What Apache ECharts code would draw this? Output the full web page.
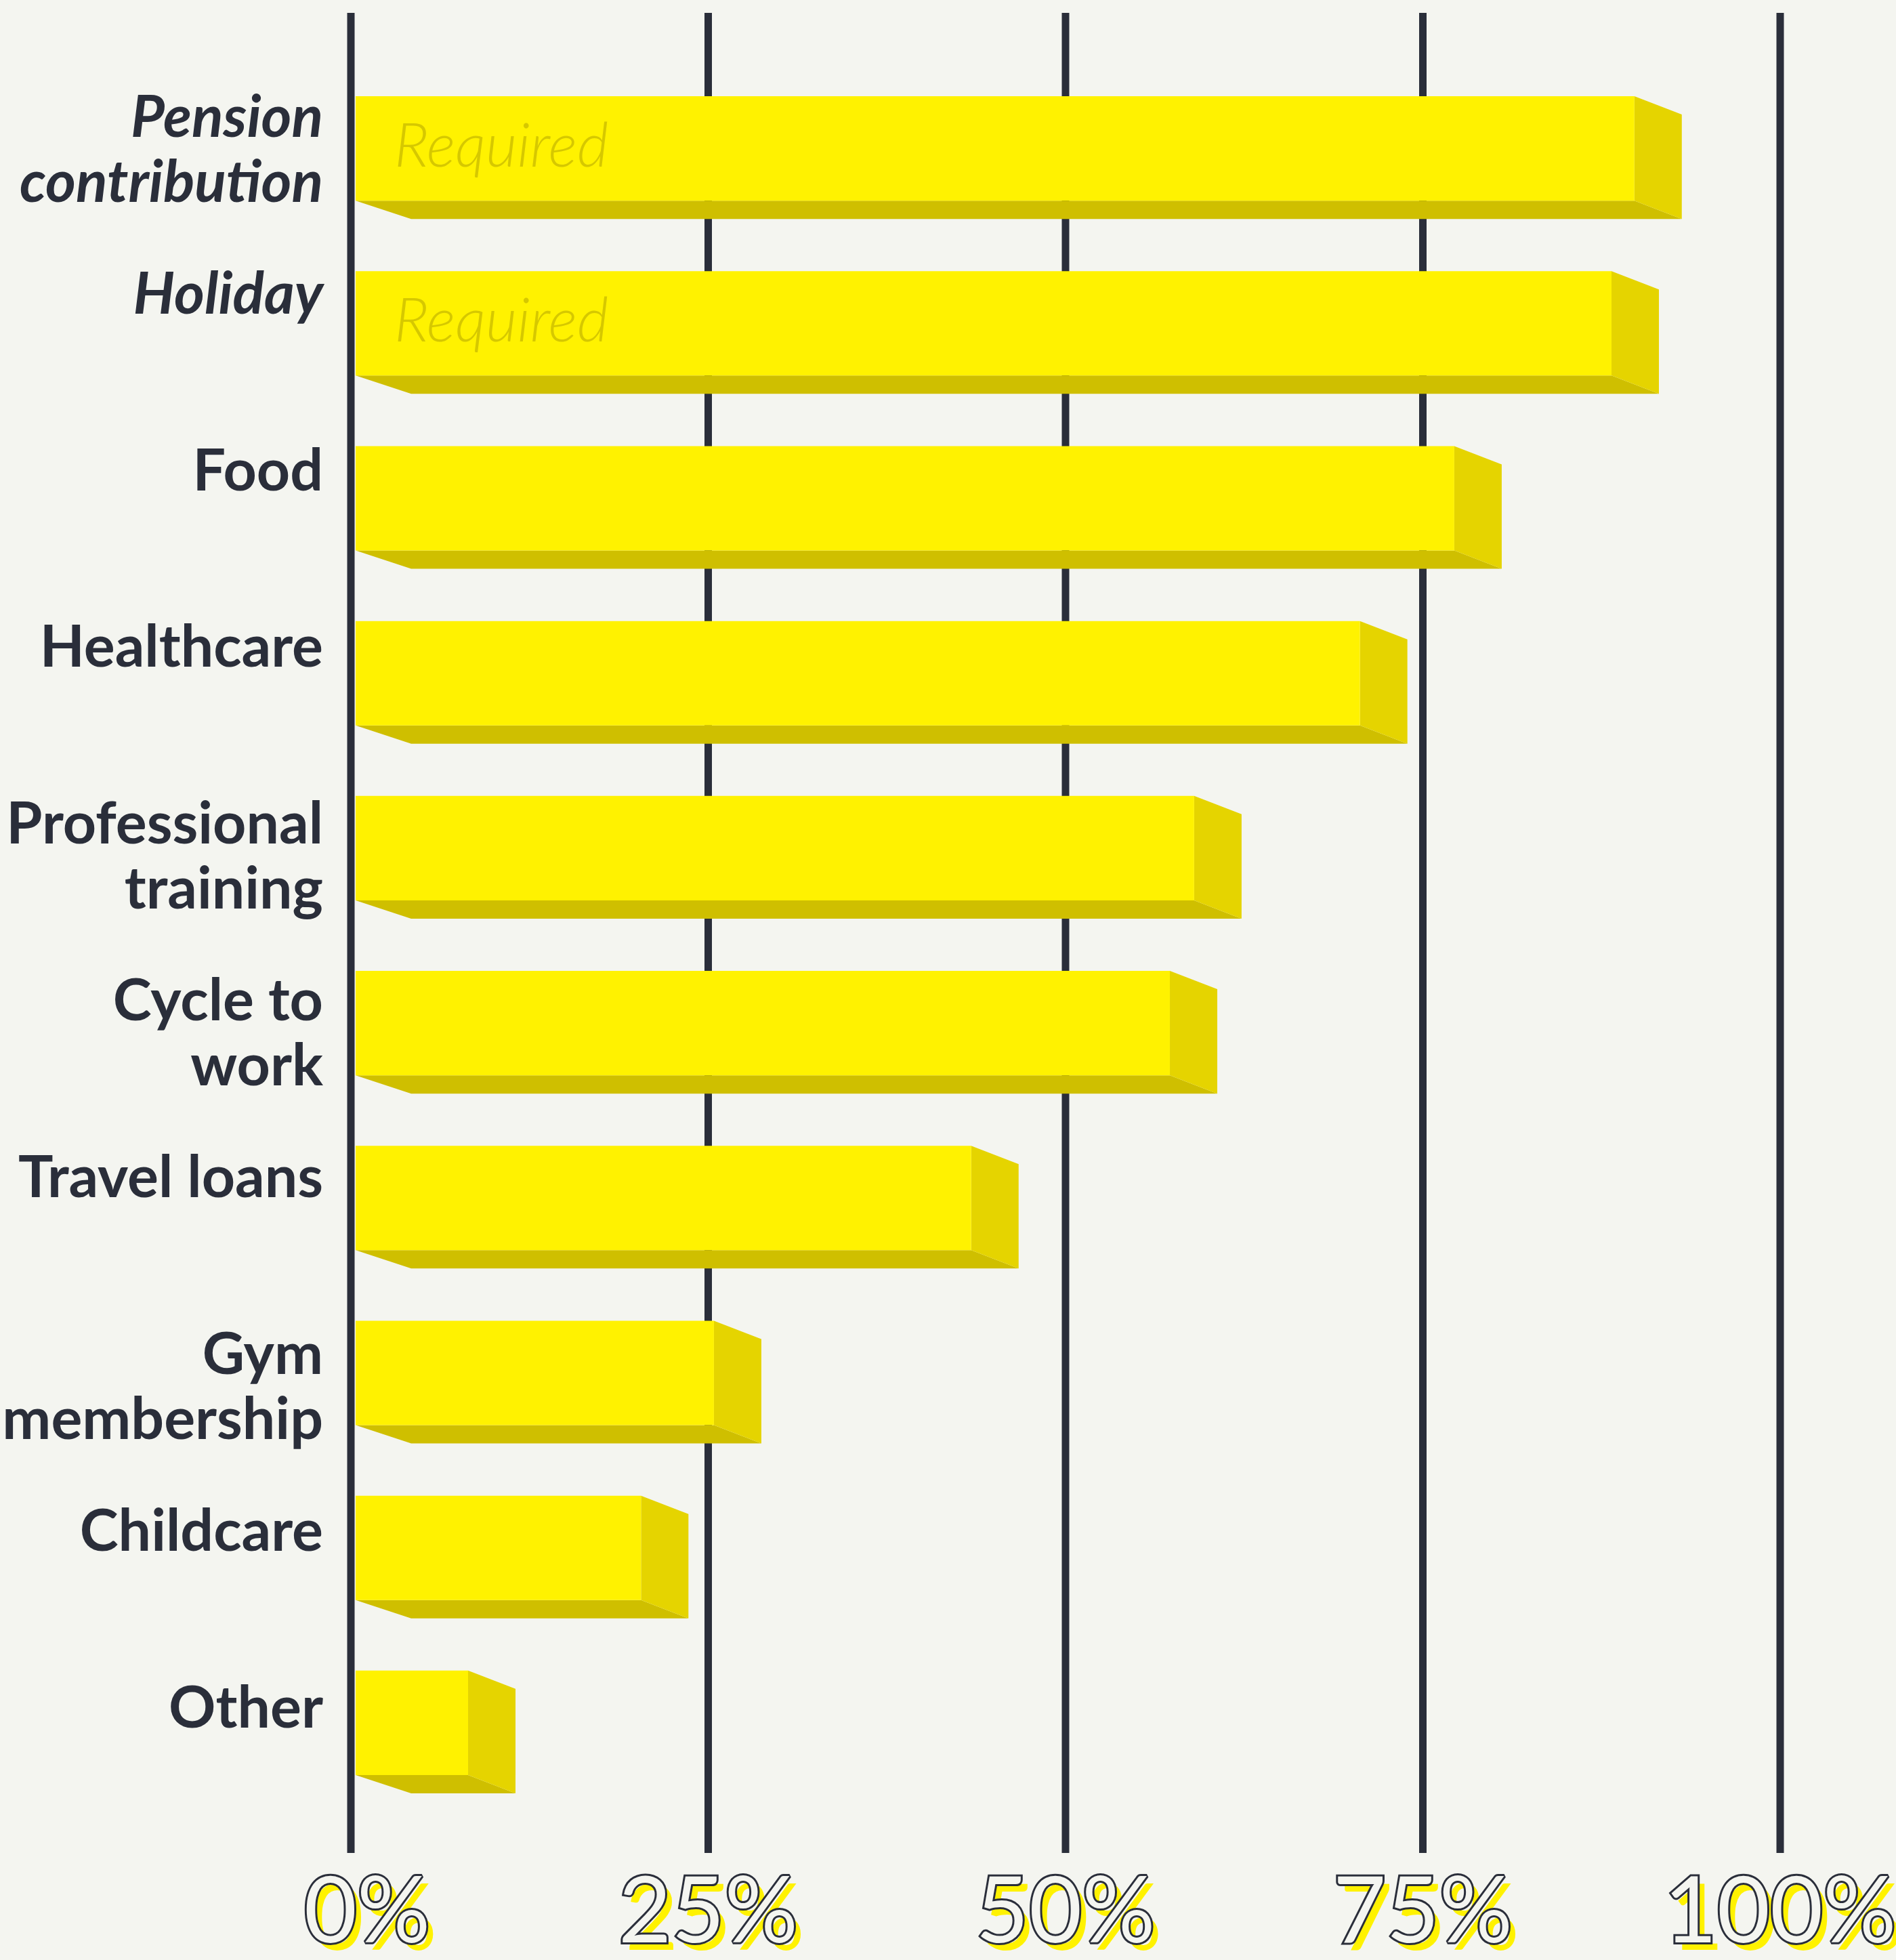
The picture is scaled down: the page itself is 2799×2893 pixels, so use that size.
<!DOCTYPE html>
<html>
<head>
<meta charset="utf-8">
<script src="https://cdn.jsdelivr.net/npm/echarts@6/dist/echarts.min.js"></script>
<style>
  html, body { margin: 0; padding: 0; background: #f4f5f0; }
  #chart { width: 2799px; height: 2893px; }
</style>
</head>
<body>
<div id="chart"></div>
<script>
// Employee benefits offered, share of respondents (%)
const categories = [
  'Pension\ncontribution', 'Holiday', 'Food', 'Healthcare', 'Professional\ntraining',
  'Cycle to\nwork', 'Travel loans', 'Gym\nmembership', 'Childcare', 'Other'
];
const shares = [89.8, 88.2, 77.2, 70.6, 59.0, 57.3, 43.4, 25.4, 20.3, 8.2];
const notes = ['Required', 'Required', '', '', '', '', '', '', '', ''];
const italicRows = [true, true, false, false, false, false, false, false, false, false];
const tickValues = [0, 25, 50, 75, 100];
const tickLabels = ['0%', '25%', '50%', '75%', '100%'];

const INK = '#2a2e3a';
const BG = '#f4f5f0';
const YELLOW = '#fff200';
const YELLOW_SIDE = '#e5d400';
const YELLOW_BOTTOM = '#cfbf00';
const NOTE = '#d6c800';

const chart = echarts.init(document.getElementById('chart'), null, { renderer: 'canvas' });

// the first tick label sits a little right of its rule
const tickText = v => {
  const k = tickValues.indexOf(v);
  if (k < 0) return '';
  return k === 0 ? '{first|' + tickLabels[k] + '}' : tickLabels[k];
};

// vertical rules at each tick, running past the plot area
function renderRule(params, api) {
  const rect = params.coordSys;
  const x = api.coord([api.value(0), 0])[0];
  return {
    type: 'rect',
    shape: { x: x - 5.5, y: rect.y - 71, width: 11, height: rect.height + 134 },
    style: { fill: INK }
  };
}

// extruded bar: front face, right side and bottom face, plus row label
function renderBar(params, api) {
  const i = api.value(1);
  const v = api.value(0);
  const zero = api.coord([0, i]);
  const end = api.coord([v, i]);
  const band = api.size([0, 1])[1];
  const h = band * 0.597;
  const x0 = zero[0] + 7;
  const x1 = end[0];
  const yt = end[1] - h / 2;
  const yb = end[1] + h / 2;
  const dx = 70, dy = 27, dxb = 82;
  const children = [
    {
      type: 'polygon',
      shape: { points: [[x0, yb], [x0 + dxb, yb + dy], [x1 + dx, yb + dy], [x1, yb]] },
      style: { fill: YELLOW_BOTTOM }
    },
    {
      type: 'polygon',
      shape: { points: [[x1, yt], [x1 + dx, yt + dy], [x1 + dx, yb + dy], [x1, yb]] },
      style: { fill: YELLOW_SIDE }
    },
    {
      type: 'rect',
      shape: { x: x0, y: yt, width: x1 - x0, height: h },
      style: { fill: YELLOW }
    },
    {
      type: 'text',
      style: {
        text: categories[i],
        x: zero[0] - 41,
        y: yt - 16 + i * 2.7,
        align: 'right',
        verticalAlign: 'top',
        fontFamily: 'Lato',
        fontSize: 86,
        fontWeight: 'bold',
        fontStyle: italicRows[i] ? 'italic' : 'normal',
        lineHeight: 96,
        fill: INK
      }
    }
  ];
  if (notes[i]) {
    children.push({
      type: 'text',
      style: {
        text: notes[i],
        x: x0 + 57,
        y: end[1] - 2,
        align: 'left',
        verticalAlign: 'middle',
        fontFamily: 'Lato',
        fontSize: 90,
        fontWeight: 300,
        fontStyle: 'italic',
        fill: NOTE
      }
    });
  }
  return { type: 'group', children };
}

const axisCommon = {
  type: 'value',
  min: 0,
  max: 100,
  interval: 25,
  position: 'bottom',
  axisLine: { show: false },
  axisTick: { show: false },
  splitLine: { show: false }
};

chart.setOption({
  backgroundColor: BG,
  animation: false,
  grid: {
    left: 518, right: 171, top: 90, bottom: 221,
    containLabel: false,
    outerBoundsMode: 'none'
  },
  xAxis: [
    // solid yellow copy of the tick labels, offset down and right
    Object.assign({}, axisCommon, {
      axisLabel: {
        formatter: tickText,
        margin: 162,
        verticalAlign: 'middle',
        padding: [0, 0, 0, 20],
        fontFamily: 'Lato',
        fontSize: 135,
        color: YELLOW,
        hideOverlap: false,
        rich: {
          first: { fontFamily: 'Lato', fontSize: 135, color: YELLOW, padding: [0, 0, 0, 48] }
        }
      }
    }),
    // outlined tick labels on top
    Object.assign({}, axisCommon, {
      axisLabel: {
        formatter: tickText,
        margin: 151,
        verticalAlign: 'middle',
        fontFamily: 'Lato',
        fontSize: 135,
        color: BG,
        textBorderColor: INK,
        textBorderWidth: 6,
        hideOverlap: false,
        rich: {
          first: {
            fontFamily: 'Lato', fontSize: 135, color: BG,
            textBorderColor: INK, textBorderWidth: 6, padding: [0, 0, 0, 48]
          }
        }
      }
    })
  ],
  yAxis: {
    type: 'category',
    data: categories,
    inverse: true,
    axisLine: { show: false },
    axisTick: { show: false },
    axisLabel: { show: false },
    splitLine: { show: false }
  },
  series: [
    {
      type: 'custom',
      name: 'rules',
      xAxisIndex: 0,
      yAxisIndex: 0,
      clip: false,
      z: 1,
      data: tickValues.map(v => [v]),
      encode: { x: 0 },
      renderItem: renderRule
    },
    {
      type: 'custom',
      name: 'benefits',
      xAxisIndex: 0,
      yAxisIndex: 0,
      clip: false,
      z: 2,
      data: shares.map((v, i) => [v, i]),
      encode: { x: 0, y: 1 },
      renderItem: renderBar
    }
  ]
});
</script>
</body>
</html>
